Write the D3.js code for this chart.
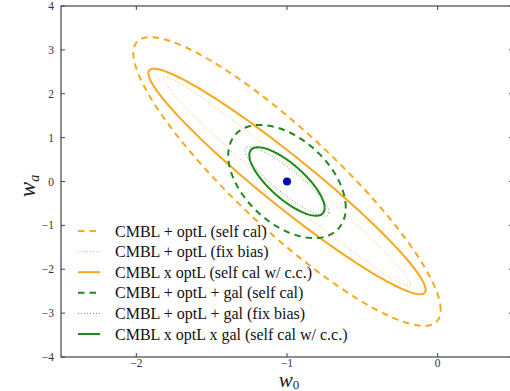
<!DOCTYPE html>
<html>
<head>
<meta charset="utf-8">
<script src="https://cdn.jsdelivr.net/npm/d3@7"></script>
<style>
body { margin: 0; background: #fff; }
text { font-family: "Liberation Serif", "DejaVu Serif", serif; }
</style>
</head>
<body>
<div id="js_chart"></div>
<script>
// fiducial model
const fiducial = [-1, 0];

// one entry per forecast ellipse (w0 / wa errors and their correlation)
const labels = [
    "CMBL + optL (self cal)",
    "CMBL + optL (fix bias)",
    "CMBL x optL (self cal w/ c.c.)",
    "CMBL + optL + gal (self cal)",
    "CMBL + optL + gal (fix bias)",
    "CMBL x optL x gal (self cal w/ c.c.)"
];
const sigmaW0 = [1.02, 0.82, 0.92, 0.39, 0.28, 0.25];
const sigmaWa = [3.29, 2.38, 2.57, 1.29, 0.79, 0.78];
const corr    = [-0.89, -0.985, -0.96, -0.46, -0.90, -0.77];
const lineKind = ["dashed", "dotted", "solid", "dashed", "dotted", "solid"];
const lineColor = ["#f7a81b", "#f7a81b", "#f7a81b", "#1e871e", "#1e871e", "#1e871e"];

const xTicks = [-2, -1, 0];
const yTicks = [-4, -3, -2, -1, 0, 1, 2, 3, 4];

function createPlot() {
    const W = 510, H = 391;
    const margin = {top: 6, left: 61, right: 513, bottom: 357};

    let x = d3.scaleLinear().domain([-2.5, 0.5]).range([margin.left, margin.right]);
    let y = d3.scaleLinear().domain([-4, 4]).range([margin.bottom, margin.top]);

    let svg = d3.select("#js_chart").append("svg")
        .attr("width", W)
        .attr("height", H);

    const dash = {dashed: "6.5,5", dotted: "1,2", solid: null};
    const width = {dashed: 2, dotted: 1, solid: 2};

    // ellipse contours
    let line = d3.line().x(function(d) { return x(d[0]); }).y(function(d) { return y(d[1]); });
    let steps = d3.range(0, 361, 2).map(function(a) { return a * Math.PI / 180; });

    labels.forEach(function(lab, i) {
        let pts = steps.map(function(t) {
            return [fiducial[0] + sigmaW0[i] * Math.cos(t),
                    fiducial[1] + sigmaWa[i] * (corr[i] * Math.cos(t) + Math.sqrt(1 - corr[i] * corr[i]) * Math.sin(t))];
        });
        svg.append("path")
            .attr("d", line(pts))
            .attr("fill", "none")
            .attr("stroke", lineColor[i])
            .attr("stroke-width", width[lineKind[i]])
            .attr("stroke-dasharray", dash[lineKind[i]])
            .attr("opacity", lineKind[i] === "dotted" ? 0.75 : 1);
    });

    svg.append("circle")
        .attr("cx", x(fiducial[0]))
        .attr("cy", y(fiducial[1]))
        .attr("r", 4)
        .attr("fill", "#0a0ab4");

    // axes, ticks inside on all four sides
    let g = svg.append("g").attr("stroke", "#444");
    g.append("rect")
        .attr("x", margin.left).attr("y", margin.top)
        .attr("width", margin.right - margin.left)
        .attr("height", margin.bottom - margin.top)
        .attr("fill", "none").attr("stroke-width", 1.2);

    xTicks.forEach(function(t) {
        g.append("line").attr("x1", x(t)).attr("x2", x(t)).attr("y1", margin.bottom).attr("y2", margin.bottom - 4);
        g.append("line").attr("x1", x(t)).attr("x2", x(t)).attr("y1", margin.top).attr("y2", margin.top + 4);
        svg.append("text")
            .attr("x", x(t)).attr("y", margin.bottom + 10)
            .attr("text-anchor", "middle")
            .attr("font-size", 11.5).attr("fill", "#333")
            .text(t < 0 ? "\u2212" + Math.abs(t) : t);
    });
    yTicks.forEach(function(t) {
        g.append("line").attr("x1", margin.left).attr("x2", margin.left + 4).attr("y1", y(t)).attr("y2", y(t));
        g.append("line").attr("x1", margin.right).attr("x2", margin.right - 4).attr("y1", y(t)).attr("y2", y(t));
        svg.append("text")
            .attr("x", margin.left - 7).attr("y", y(t) + 4)
            .attr("text-anchor", "end")
            .attr("font-size", 11.5).attr("fill", "#333")
            .text(t < 0 ? "\u2212" + Math.abs(t) : t);
    });

    // axis labels
    let xl = svg.append("text")
        .attr("x", 289).attr("y", 387)
        .attr("text-anchor", "middle")
        .attr("font-size", 21).attr("font-style", "italic").attr("fill", "#222");
    xl.append("tspan").text("w");
    xl.append("tspan").attr("font-size", 13).attr("font-style", "normal").attr("dy", 2).text("0");

    let yl = svg.append("text")
        .attr("transform", "translate(35,186) rotate(-90)")
        .attr("text-anchor", "middle")
        .attr("font-size", 23).attr("font-style", "italic").attr("fill", "#222");
    yl.append("tspan").text("w");
    yl.append("tspan").attr("font-size", 14).attr("dy", 4).text("a");

    // legend
    let leg = svg.append("g");
    labels.forEach(function(lab, i) {
        let ly = 231 + i * 20.6;
        leg.append("line")
            .attr("x1", 78).attr("x2", 100).attr("y1", ly).attr("y2", ly)
            .attr("stroke", lineColor[i])
            .attr("stroke-width", width[lineKind[i]])
            .attr("stroke-dasharray", dash[lineKind[i]])
            .attr("opacity", lineKind[i] === "dotted" ? 0.75 : 1);
        leg.append("text")
            .attr("x", 115).attr("y", ly + 5.5)
            .attr("font-family", "DejaVu Serif")
            .attr("font-size", 16).attr("fill", "#111")
            .text(lab);
    });
}

createPlot();
</script>
</body>
</html>
